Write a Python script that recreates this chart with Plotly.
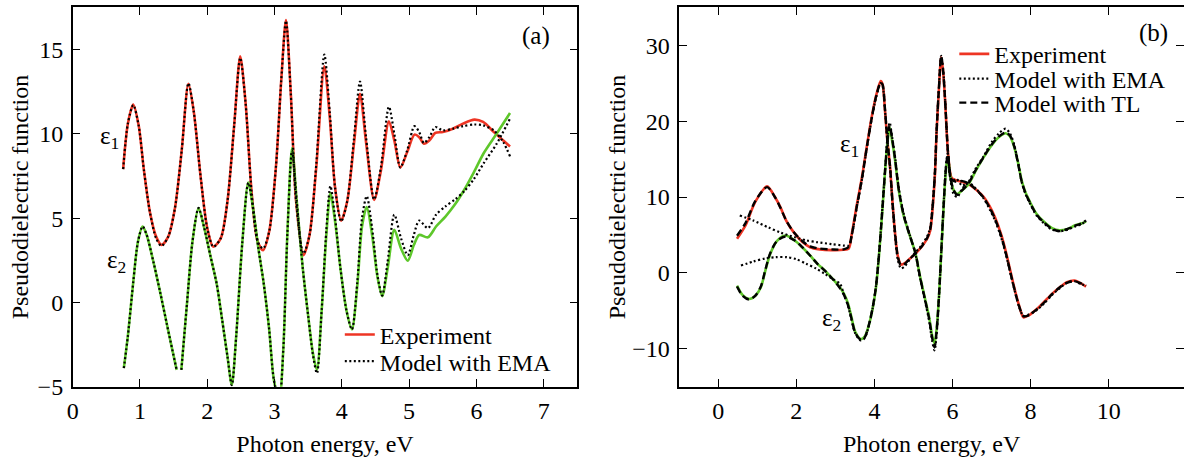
import plotly.graph_objects as go

# ---------------- Panel (a) data ----------------
a_e1_x = [0.75, 0.82, 0.90, 0.98, 1.06, 1.15, 1.24, 1.32, 1.42, 1.52, 1.62, 1.72, 1.80, 1.90, 2.00, 2.09,
          2.20, 2.30, 2.40, 2.49, 2.57, 2.66, 2.75, 2.83, 2.92, 3.02, 3.10, 3.17, 3.24, 3.32, 3.43, 3.52,
          3.62, 3.74, 3.82, 3.90, 3.99, 4.08, 4.18, 4.27, 4.36, 4.48, 4.58, 4.70, 4.78, 4.87, 4.97, 5.08,
          5.15, 5.22, 5.30, 5.39, 5.50, 5.65, 5.80, 5.97, 6.10, 6.26, 6.40, 6.50]
a_e1_exp = [7.9, 10.6, 11.73, 10.5, 7.8, 5.3, 3.9, 3.41, 3.9, 5.6, 9.0, 12.96, 11.3, 7.5, 4.4, 3.31,
            3.8, 6.0, 10.5, 14.6, 11.8, 6.5, 3.6, 3.1, 4.2, 8.0, 13.2, 16.75, 12.5, 6.0, 2.8, 4.0,
            8.0, 14.0, 11.0, 6.8, 4.85, 6.0, 9.4, 12.37, 9.5, 6.08, 7.8, 10.74, 9.6, 8.0, 8.9, 9.95,
            9.8, 9.41, 9.6, 10.05, 10.1, 10.3, 10.6, 10.84, 10.7, 10.1, 9.6, 9.25]
a_e1_ema = [7.9, 10.6, 11.7, 10.5, 7.8, 5.3, 3.8, 3.35, 3.9, 5.6, 9.0, 13.0, 11.3, 7.5, 4.4, 3.3,
            3.8, 6.0, 10.5, 14.5, 11.8, 6.5, 3.6, 3.2, 4.2, 8.0, 13.2, 16.7, 12.5, 6.0, 2.9, 4.0,
            8.2, 14.7, 11.3, 6.8, 4.8, 6.0, 9.7, 13.1, 9.8, 6.1, 8.0, 11.6, 10.0, 8.0, 9.0, 10.45,
            10.1, 9.45, 9.8, 10.4, 10.2, 10.3, 10.45, 10.55, 10.5, 10.2, 9.5, 8.66]

a_e2_x = [0.76, 0.82, 0.90, 0.97, 1.04, 1.10, 1.20, 1.30, 1.40, 1.48, 1.545, None, 1.615, 1.70, 1.78, 1.87,
          1.95, 2.05, 2.14, 2.22, 2.30, 2.365, 2.43, 2.52, 2.61, 2.68, 2.76, 2.84, 2.92, 2.99, 3.07, 3.13,
          3.19, 3.26, 3.33, 3.42, 3.50, 3.57, 3.63, 3.70, 3.77, 3.83, 3.90, 3.98, 4.07, 4.15, 4.23, 4.30,
          4.37, 4.45, 4.53, 4.60, 4.68, 4.78, 4.88, 4.98, 5.07, 5.15, 5.28, 5.40, 5.54, 5.68, 5.82, 5.96,
          6.11, 6.30, 6.50]
a_e2_exp = [-3.89, -2.0, 1.2, 3.6, 4.5, 4.0, 2.4, 0.6, -1.3, -2.8, -4.0, None, -4.0, 0.0, 3.6, 5.59,
            4.5, 2.7, 1.1, -1.0, -3.2, -4.9, -2.0, 3.5, 7.11, 5.6, 3.2, 1.1, -1.6, -4.6, -5.8, -2.8,
            4.0, 9.15, 6.0, 2.0, -0.8, -3.0, -4.0, -0.5, 4.0, 6.48, 4.8, 2.0, -0.5, -1.6, 1.0, 4.5,
            5.65, 4.0, 1.5, 0.37, 2.0, 4.3, 3.2, 2.47, 3.4, 4.0, 3.86, 4.5, 5.09, 5.8, 6.68, 7.7,
            8.86, 10.0, 11.23]
a_e2_ema = [-3.9, -2.0, 1.2, 3.6, 4.5, 4.0, 2.4, 0.6, -1.3, -2.8, -4.0, None, -4.0, 0.0, 3.6, 5.6,
            4.5, 2.7, 1.1, -1.0, -3.2, -4.9, -2.0, 3.5, 7.1, 5.6, 3.2, 1.1, -1.6, -4.6, -5.8, -2.8,
            4.0, 9.0, 6.0, 2.0, -0.8, -3.1, -4.2, -0.5, 4.3, 6.9, 5.0, 2.0, -0.5, -1.6, 1.2, 5.0,
            6.3, 4.4, 1.6, 0.4, 2.4, 5.2, 3.8, 2.8, 4.0, 4.85, 4.4, 5.2, 5.7, 6.1, 6.6, 7.3,
            8.26, 9.4, 10.9]

# ---------------- Panel (b) data ----------------
b_e1_x = [0.48, 0.70, 0.95, 1.25, 1.45, 1.59, 1.75, 1.93, 2.15, 2.35, 2.60, 2.90, 3.21, 3.34, 3.42, 3.55,
          3.68, 3.80, 3.93, 4.05, 4.16, 4.21, 4.27, 4.33, 4.40, 4.46, 4.53, 4.60, 4.68, 4.78, 4.91, 5.00,
          5.20, 5.35, 5.43, 5.49, 5.55, 5.59, 5.65, 5.71, 5.76, 5.81, 5.88, 5.94, 5.98, 6.10, 6.25, 6.41,
          6.60, 6.80, 6.95, 7.09, 7.25, 7.38, 7.48, 7.58, 7.70, 7.82, 7.95, 8.16, 8.35, 8.55, 8.75, 8.93,
          9.13, 9.30, 9.42]
b_e1_exp = [4.49, 6.3, 9.4, 11.4, 10.0, 8.67, 6.8, 5.37, 4.1, 3.38, 3.1, 3.0, 3.04, 3.2, 5.15, 9.0,
            12.6, 16.5, 20.55, 23.5, 25.27, 24.8, 21.4, 17.5, 13.95, 9.5, 5.15, 2.2, 1.1, 1.3, 1.9, 2.3,
            3.4, 4.5, 5.6, 8.5, 13.0, 18.3, 24.0, 28.4, 26.5, 22.7, 16.1, 13.2, 12.5, 12.2, 12.0, 11.7,
            11.0, 10.0, 8.8, 7.3, 5.0, 2.5, 0.3, -1.9, -4.2, -5.85, -5.6, -4.75, -3.8, -2.77, -1.9, -1.23,
            -1.0, -1.4, -1.8]
b_e1_tl = [4.9, 6.6, 9.5, 11.3, 10.0, 8.6, 6.8, 5.4, 4.2, 3.5, 3.2, 3.1, 3.1, 3.4, 5.0, 8.8,
           12.4, 16.4, 20.4, 23.4, 25.1, 24.8, 21.6, 17.6, 14.0, 9.5, 5.2, 2.1, 1.0, 1.2, 1.9, 2.3,
           3.4, 4.6, 5.8, 8.7, 13.2, 18.4, 24.2, 28.6, 26.6, 22.8, 16.2, 13.0, 12.3, 12.0, 12.1, 11.8,
           11.0, 9.9, 8.6, 7.1, 4.8, 2.3, 0.1, -2.0, -4.3, -5.7, -5.6, -4.8, -3.9, -2.8, -1.9, -1.3,
           -1.1, -1.4, -1.7]
b_e1_ema_x = [0.55, 0.90, 1.28, 1.60, 1.96, 2.25, 2.54, 2.90, 3.22, 3.34, 3.42, 3.55,
              3.68, 3.80, 3.93, 4.05, 4.16, 4.21, 4.27, 4.33, 4.40, 4.46, 4.53, 4.60, 4.68, 4.78, 4.91, 5.00,
              5.20, 5.35, 5.43, 5.49, 5.55, 5.59, 5.65, 5.71, 5.76, 5.81, 5.88, 5.94, 5.98, 6.10, 6.25, 6.41,
              6.60, 6.80, 6.95, 7.09, 7.25, 7.38, 7.48, 7.58, 7.70, 7.82, 7.95, 8.16, 8.35, 8.55, 8.75, 8.93,
              9.13, 9.30, 9.42]
b_e1_ema = [7.56, 6.9, 6.0, 5.3, 4.7, 4.3, 4.04, 3.8, 3.6, 3.6, 5.0, 8.7,
            12.3, 16.3, 20.3, 23.3, 25.0, 24.6, 21.5, 17.4, 13.8, 9.2, 4.8, 1.7, 0.6, 0.9, 1.8, 2.4,
            3.6, 4.8, 6.0, 8.9, 13.4, 18.6, 24.4, 28.6, 26.8, 22.9, 16.0, 12.6, 12.0, 12.4, 11.5, 11.9,
            11.1, 9.8, 8.4, 6.9, 4.6, 2.2, 0.0, -2.1, -4.4, -5.7, -5.5, -4.9, -4.0, -2.9, -2.0, -1.3,
            -1.1, -1.5, -1.6]

b_e2_x = [0.48, 0.62, 0.79, 0.95, 1.09, 1.20, 1.33, 1.50, 1.72, 1.95, 2.15, 2.35, 2.54, 2.75, 2.93, 3.10,
          3.22, 3.32, 3.41, 3.51, 3.65, 3.75, 3.85, 3.95, 4.04, 4.12, 4.19, 4.28, 4.34, 4.39, 4.45, 4.53,
          4.62, 4.75, 4.90, 5.05, 5.17, 5.30, 5.40, 5.48, 5.54, 5.60, 5.66, 5.72, 5.78, 5.84, 5.88, 5.94,
          6.02, 6.12, 6.25, 6.41, 6.60, 6.80, 7.00, 7.19, 7.36, 7.47, 7.58, 7.68, 7.77, 7.87, 7.97, 8.15,
          8.35, 8.55, 8.74, 8.95, 9.13, 9.30, 9.42]
b_e2_exp = [-1.67, -2.9, -3.43, -3.0, -1.9, 0.2, 2.5, 4.2, 4.92, 4.3, 3.38, 2.3, 1.2, 0.2, -0.8, -1.8,
            -2.77, -4.0, -5.8, -7.8, -8.7, -8.4, -7.0, -4.8, -1.9, 2.5, 7.3, 13.9, 17.5, 19.2, 17.5, 14.8,
            11.0, 7.5, 5.0, 2.6, -0.5, -3.5, -5.8, -8.3, -9.3, -7.0, -2.5, 3.5, 9.5, 14.0, 15.3, 12.8,
            11.0, 10.4, 10.9, 11.7, 13.5, 15.25, 16.8, 17.9, 18.4, 18.0, 16.6, 14.5, 12.2, 10.6, 9.5, 7.8,
            6.7, 5.9, 5.6, 5.8, 6.24, 6.5, 6.8]
b_e2_tl = [-1.8, -3.0, -3.5, -3.0, -1.8, 0.3, 2.6, 4.2, 4.8, 4.3, 3.4, 2.3, 1.2, 0.2, -0.8, -1.9,
           -2.9, -4.2, -6.0, -7.9, -8.8, -8.5, -7.0, -4.7, -1.8, 2.6, 7.4, 14.0, 17.8, 19.5, 17.8, 15.0,
           11.1, 7.6, 5.0, 2.6, -0.6, -3.6, -6.0, -8.6, -9.8, -7.2, -2.4, 3.6, 9.6, 14.3, 15.5, 12.9,
           11.0, 10.3, 10.9, 11.8, 13.6, 15.3, 16.9, 18.0, 18.5, 18.1, 16.7, 14.4, 12.1, 10.5, 9.4, 7.7,
           6.6, 5.8, 5.5, 5.8, 6.2, 6.5, 6.9]
b_e2_ema_x = [0.58, 0.90, 1.20, 1.47, 1.76, 2.00, 2.25, 2.50, 2.73, 2.93, 3.12,
              3.22, 3.32, 3.41, 3.51, 3.65, 3.75, 3.85, 3.95, 4.04, 4.12, 4.19, 4.28, 4.34, 4.39, 4.45, 4.53,
              4.62, 4.75, 4.90, 5.05, 5.17, 5.30, 5.40, 5.48, 5.54, 5.60, 5.66, 5.72, 5.78, 5.84, 5.88, 5.94,
              6.02, 6.12, 6.25, 6.41, 6.60, 6.80, 7.00, 7.19, 7.36, 7.47, 7.58, 7.68, 7.77, 7.87, 7.97, 8.15,
              8.35, 8.55, 8.74, 8.95, 9.13, 9.30, 9.42]
b_e2_ema = [0.97, 1.5, 1.9, 2.07, 2.07, 1.8, 1.2, 0.6, -0.13, -0.8, -1.45,
            -2.9, -4.3, -6.1, -8.0, -8.9, -8.6, -7.1, -4.8, -1.7, 2.7, 7.6, 14.2, 18.2, 19.8, 18.0, 15.2,
            11.3, 7.8, 5.1, 2.5, -0.7, -3.8, -6.3, -9.0, -10.2, -7.6, -2.6, 3.6, 9.8, 14.6, 15.8, 12.6,
            10.5, 10.0, 11.1, 12.0, 13.8, 15.4, 17.2, 18.4, 19.0, 18.4, 16.9, 14.6, 12.0, 10.4, 9.3, 7.6,
            6.5, 5.7, 5.5, 5.7, 6.1, 6.4, 6.9]

tick_a_x = [0, 1, 2, 3, 4, 5, 6, 7]
tick_a_y = [-5, 0, 5, 10, 15]
tick_b_x = [0, 2, 4, 6, 8, 10]
tick_b_y = [-10, 0, 10, 20, 30]

RED = "#ee3524"
GREEN = "#5ec72b"
FONT = "Liberation Serif, Times New Roman, serif"
SOLID_W = 2.6
DOT = "2px,2.5px"
DASH = "7px,4px"

fig = go.Figure()

def add(x, y, color, dash, width, xa, ya, name=None, legend=None):
    fig.add_trace(go.Scatter(
        x=x, y=y, mode="lines", xaxis=xa, yaxis=ya,
        line=dict(color=color, width=width, dash=dash, shape="spline", smoothing=0.8),
        name=name or "", showlegend=name is not None, legend=legend or "legend",
        connectgaps=False, hoverinfo="skip"))

# panel (a)
add(a_e1_x, a_e1_exp, RED, "solid", SOLID_W, "x", "y", "Experiment", "legend")
add(a_e2_x, a_e2_exp, GREEN, "solid", SOLID_W, "x", "y")
add(a_e1_x, a_e1_ema, "black", DOT, 2.2, "x", "y", "Model with EMA", "legend2")
add(a_e2_x, a_e2_ema, "black", DOT, 2.2, "x", "y")

# panel (b)
add(b_e1_x, b_e1_exp, RED, "solid", SOLID_W, "x2", "y2", "Experiment", "legend3")
add(b_e2_x, b_e2_exp, GREEN, "solid", SOLID_W, "x2", "y2")
add(b_e1_ema_x, b_e1_ema, "black", DOT, 2.2, "x2", "y2", "Model with EMA", "legend4")
add(b_e2_ema_x, b_e2_ema, "black", DOT, 2.2, "x2", "y2")
add(b_e1_x, b_e1_tl, "black", DASH, 2.4, "x2", "y2", "Model with TL", "legend5")
add(b_e2_x, b_e2_tl, "black", DASH, 2.4, "x2", "y2")

axis_common = dict(
    showline=True, linecolor="black", linewidth=1.5, mirror="allticks",
    ticks="inside", ticklen=8, tickwidth=1.4, tickcolor="black",
    showgrid=False, zeroline=False, automargin=False,
    tickfont=dict(family=FONT, size=24, color="black"),
    title_font=dict(family=FONT, size=24, color="black"),
)

fig.update_layout(
    template="none",
    width=1184, height=460,
    margin=dict(l=0, r=0, t=0, b=0, pad=0),
    paper_bgcolor="white", plot_bgcolor="white",
    xaxis=dict(domain=[0.0614, 0.4876], range=[0, 7.5], tickvals=tick_a_x, anchor="y",
               title=dict(text="Photon energy, eV", standoff=12), ticklabelstandoff=2, **axis_common),
    yaxis=dict(domain=[0.1593, 0.9841], range=[-5, 17.5], tickvals=tick_a_y, anchor="x",
               title=dict(text="Pseudodielectric function", standoff=2), ticklabelstandoff=3, **axis_common),
    xaxis2=dict(domain=[0.5737, 1.0], range=[-1, 11.93], tickvals=tick_b_x, anchor="y2",
                title=dict(text="Photon energy, eV", standoff=12), ticklabelstandoff=2, **axis_common),
    yaxis2=dict(domain=[0.1593, 0.9841], range=[-15, 35], tickvals=tick_b_y, anchor="x2",
                title=dict(text="Pseudodielectric function", standoff=0), ticklabelstandoff=3, **axis_common),
)

leg = dict(xanchor="left", yanchor="middle", bgcolor="rgba(0,0,0,0)", borderwidth=0,
           font=dict(family=FONT, size=24, color="black"))
fig.update_layout(
    legend=dict(x=0.287, y=0.272, **leg),
    legend2=dict(x=0.287, y=0.214, **leg),
    legend3=dict(x=0.806, y=0.882, **leg),
    legend4=dict(x=0.806, y=0.828, **leg),
    legend5=dict(x=0.806, y=0.776, **leg),
)

ann_font = dict(family=FONT, size=25, color="black")
annotations = [
    dict(x=0.554, y=9.75, xref="x", yref="y", text="ε<sub>1</sub>"),
    dict(x=0.65, y=2.41, xref="x", yref="y", text="ε<sub>2</sub>"),
    dict(x=3.35, y=16.8, xref="x2", yref="y2", text="ε<sub>1</sub>"),
    dict(x=2.91, y=-6.2, xref="x2", yref="y2", text="ε<sub>2</sub>"),
    dict(x=6.89, y=15.8, xref="x", yref="y", text="(a)"),
    dict(x=11.16, y=31.6, xref="x2", yref="y2", text="(b)"),
]
for a in annotations:
    a.update(showarrow=False, font=ann_font)
fig.update_layout(annotations=annotations)

fig.write_html("out.html", config={"displayModeBar": False},
               post_script="document.body.style.margin='0px';")
